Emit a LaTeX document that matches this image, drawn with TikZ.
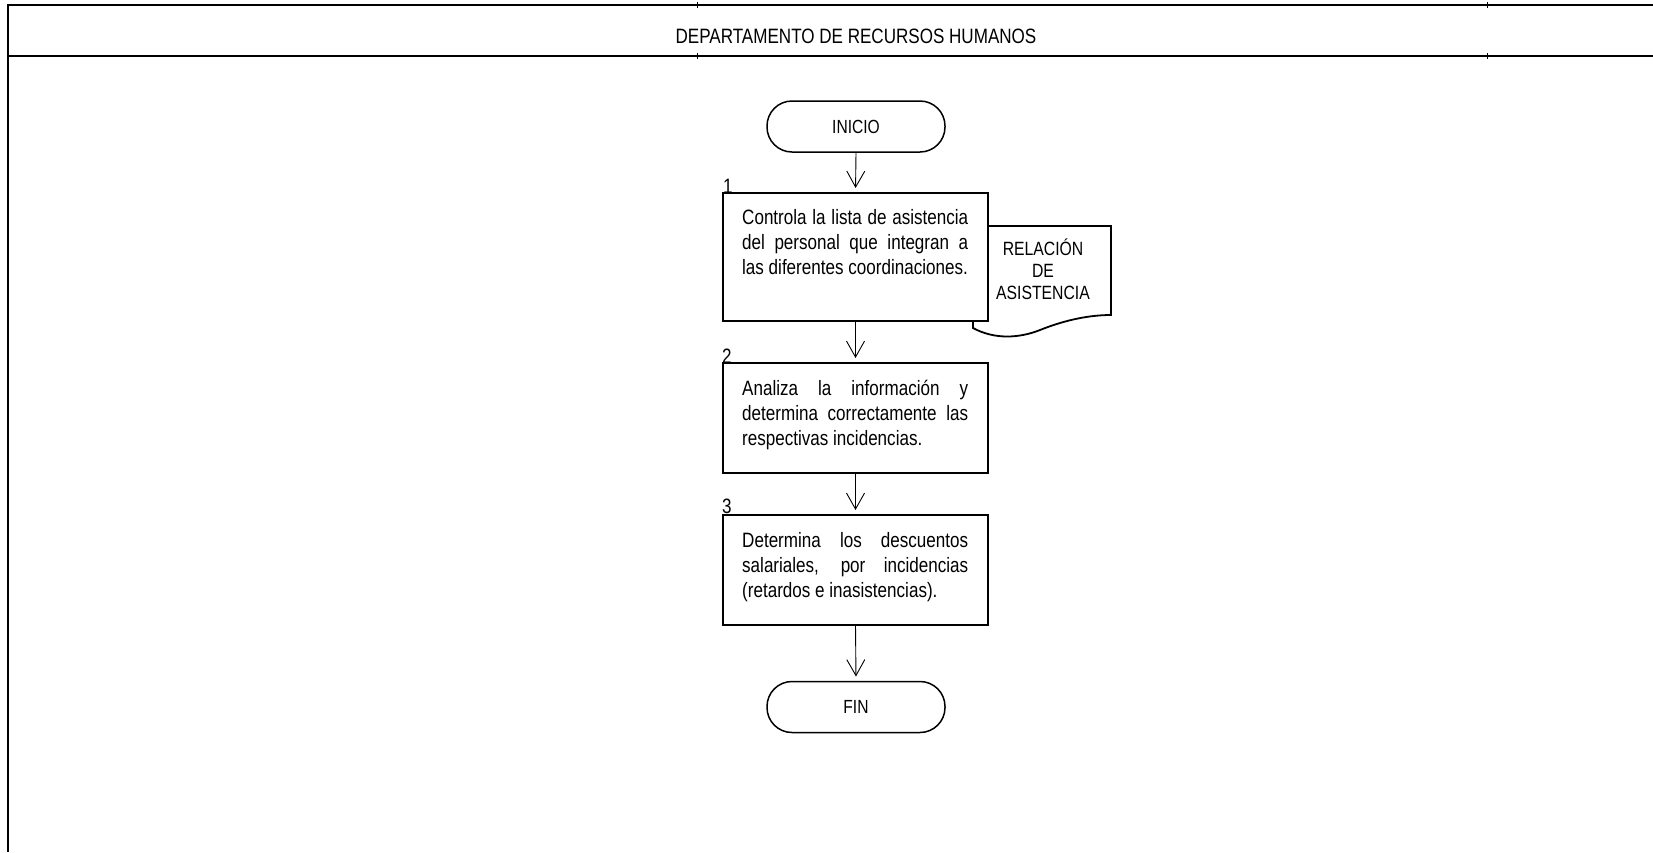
\documentclass[tikz,border=0pt]{standalone}
\usepackage{fontspec}
\setmainfont{Liberation Sans}[FakeStretch=0.82]
\usetikzlibrary{arrows.meta}
\newcommand{\jline}[1]{\makebox[226pt][s]{#1}}
\begin{document}
\begin{tikzpicture}[x=1pt,y=-1pt,
  frame/.style={line width=2.4pt},
  gridtick/.style={line width=0.8pt},
  procbox/.style={draw, line width=2pt, fill=white, inner sep=0pt, outer sep=0pt, minimum width=265pt},
  term/.style={draw, line width=1.5pt, rounded corners=25pt, minimum width=178pt, minimum height=51pt, inner sep=0pt, outer sep=0pt, font=\fontsize{19}{22}\selectfont},
  boxtext/.style={anchor=north west, inner sep=0pt, align=left, font=\fontsize{20.8}{25}\selectfont},
  num/.style={anchor=base west, inner sep=0pt, font=\fontsize{20.8}{25}\selectfont},
  docline/.style={line width=1.8pt, line join=miter},
  doctext/.style={anchor=north, inner sep=0pt, align=center, font=\fontsize{19.2}{22}\selectfont},
  flow/.style={line width=0.9pt, -{Straight Barb[length=16pt,width=18pt]}, shorten >=5pt}
]
\useasboundingbox (0,0) rectangle (1653,852);
% frame
\draw[frame] (8,852) -- (8,5) -- (1653,5);
\draw[frame] (8,56) -- (1653,56);
\draw[gridtick] (697,2) -- (697,8);
\draw[gridtick] (697,53) -- (697,59);
\draw[gridtick] (1487,2) -- (1487,8);
\draw[gridtick] (1487,53) -- (1487,59);
\node[anchor=base, inner sep=0pt, font=\fontsize{20.8}{25}\selectfont] (hdr) at (856,43) {DEPARTAMENTO DE RECURSOS HUMANOS};

% document symbol (behind box 1)
\draw[docline] (973,226) -- (1111,226) -- (1111,315)
  .. controls (1085,315) and (1060,322) .. (1040,330)
  .. controls (1020,338) and (995,340) .. (973,328) -- cycle;

% terminals and process boxes
\node[term] (ini) at (856,126.5) {INICIO};
\node[procbox, minimum height=128pt] (b1) at (855.5,257) {};
\node[procbox, minimum height=110pt] (b2) at (855.5,418) {};
\node[procbox, minimum height=110pt] (b3) at (855.5,570) {};
\node[term] (fin) at (856,707) {FIN};

% step numbers
\node[num] (n1) at (723,193) {1};
\node[num] (n2) at (722,363) {2};
\node[num] (n3) at (722,513) {3};

% box texts
\node[boxtext] (t1) at (742,206.5) {\strut\jline{Controla la lista de asistencia}\\\jline{del personal que integran a}\\las diferentes coordinaciones.};
\node[boxtext] (t2) at (742,377.5) {\strut\jline{Analiza la información y}\\\jline{determina correctamente las}\\respectivas incidencias.};
\node[boxtext] (t3) at (742,529.5) {\strut\jline{Determina los descuentos}\\\jline{salariales, por incidencias}\\(retardos e inasistencias).};

% document text
\node[doctext] (doc) at (1043,239.6) {\strut\smash{RELACIÓN}\\DE\\ASISTENCIA};

% connectors
\draw[flow] (ini.south) -- (b1.north);
\draw[flow] (b1.south) -- (b2.north);
\draw[flow] (b2.south) -- (b3.north);
\draw[flow] (b3.south) -- (fin.north);
\end{tikzpicture}
\end{document}
